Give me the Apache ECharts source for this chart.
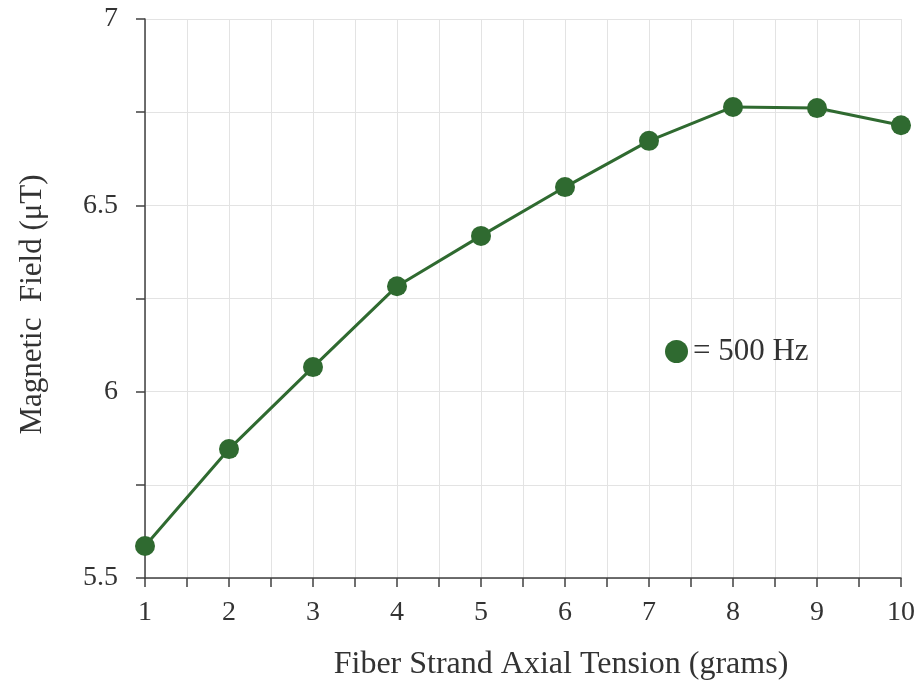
<!DOCTYPE html>
<html>
<head>
<meta charset="utf-8">
<script src="https://cdn.jsdelivr.net/npm/echarts@6/dist/echarts.min.js"></script>
<style>html,body{margin:0;padding:0;background:#fff;}#c{width:920px;height:687px;}</style>
</head>
<body>
<div id="c"></div>
<script>
const tension = [1, 2, 3, 4, 5, 6, 7, 8, 9, 10];
const field500 = [5.586, 5.846, 6.066, 6.283, 6.418, 6.549, 6.673, 6.764, 6.761, 6.715];
const seriesName = '= 500 Hz';
const xTitle = 'Fiber Strand Axial Tension (grams)';
const yTitle = 'Magnetic  Field (\u03bcT)';

const chart = echarts.init(document.getElementById('c'));
const font = 'Liberation Serif';
const green = '#2f6a30';
chart.setOption({
  animation: false,
  backgroundColor: '#fff',
  textStyle: { fontFamily: font },
  grid: { left: 145, right: 19, top: 19, bottom: 109, containLabel: false, outerBoundsMode: 'none' },
  legend: {
    left: 660, top: 331,
    icon: 'circle', itemWidth: 23, itemHeight: 23, itemGap: 4,
    textStyle: { fontFamily: font, fontSize: 31, color: '#333' },
    data: [{ name: seriesName, itemStyle: { color: green } }]
  },
  xAxis: {
    type: 'value', min: 1, max: 10, interval: 0.5,
    name: xTitle, nameLocation: 'middle', nameGap: 71,
    nameTextStyle: { fontFamily: font, fontSize: 32, color: '#333', padding: [0, 0, 0, 76] },
    axisLine: { show: true, onZero: false, lineStyle: { color: '#404040', width: 1.5 } },
    axisTick: { show: true, length: 9, lineStyle: { color: '#404040', width: 1.5 } },
    axisLabel: {
      margin: 21, fontFamily: font, fontSize: 28, color: '#333',
      formatter: v => (Math.abs(v - Math.round(v)) < 1e-6 ? String(Math.round(v)) : '')
    },
    splitLine: { show: true, lineStyle: { color: '#e3e3e3', width: 1 } }
  },
  yAxis: {
    type: 'value', min: 5.5, max: 7, interval: 0.25,
    name: yTitle, nameLocation: 'middle', nameGap: 97, nameRotate: 90,
    nameTextStyle: { fontFamily: font, fontSize: 31, color: '#333', padding: [0, 12, 0, 0] },
    axisLine: { show: true, onZero: false, lineStyle: { color: '#404040', width: 1.5 } },
    axisTick: { show: true, length: 9, lineStyle: { color: '#404040', width: 1.5 } },
    axisLabel: {
      margin: 27, fontFamily: font, fontSize: 28, color: '#333',
      formatter: v => (Math.abs(v * 2 - Math.round(v * 2)) < 1e-6 ? String(+v.toFixed(1)) : '')
    },
    splitLine: { show: true, lineStyle: { color: '#e3e3e3', width: 1 } }
  },
  series: [{
    name: seriesName,
    type: 'line',
    data: tension.map((t, i) => [t, field500[i]]),
    symbol: 'circle', symbolSize: 20,
    lineStyle: { color: green, width: 3 },
    itemStyle: { color: green },
    clip: false
  }]
});
</script>
</body>
</html>
